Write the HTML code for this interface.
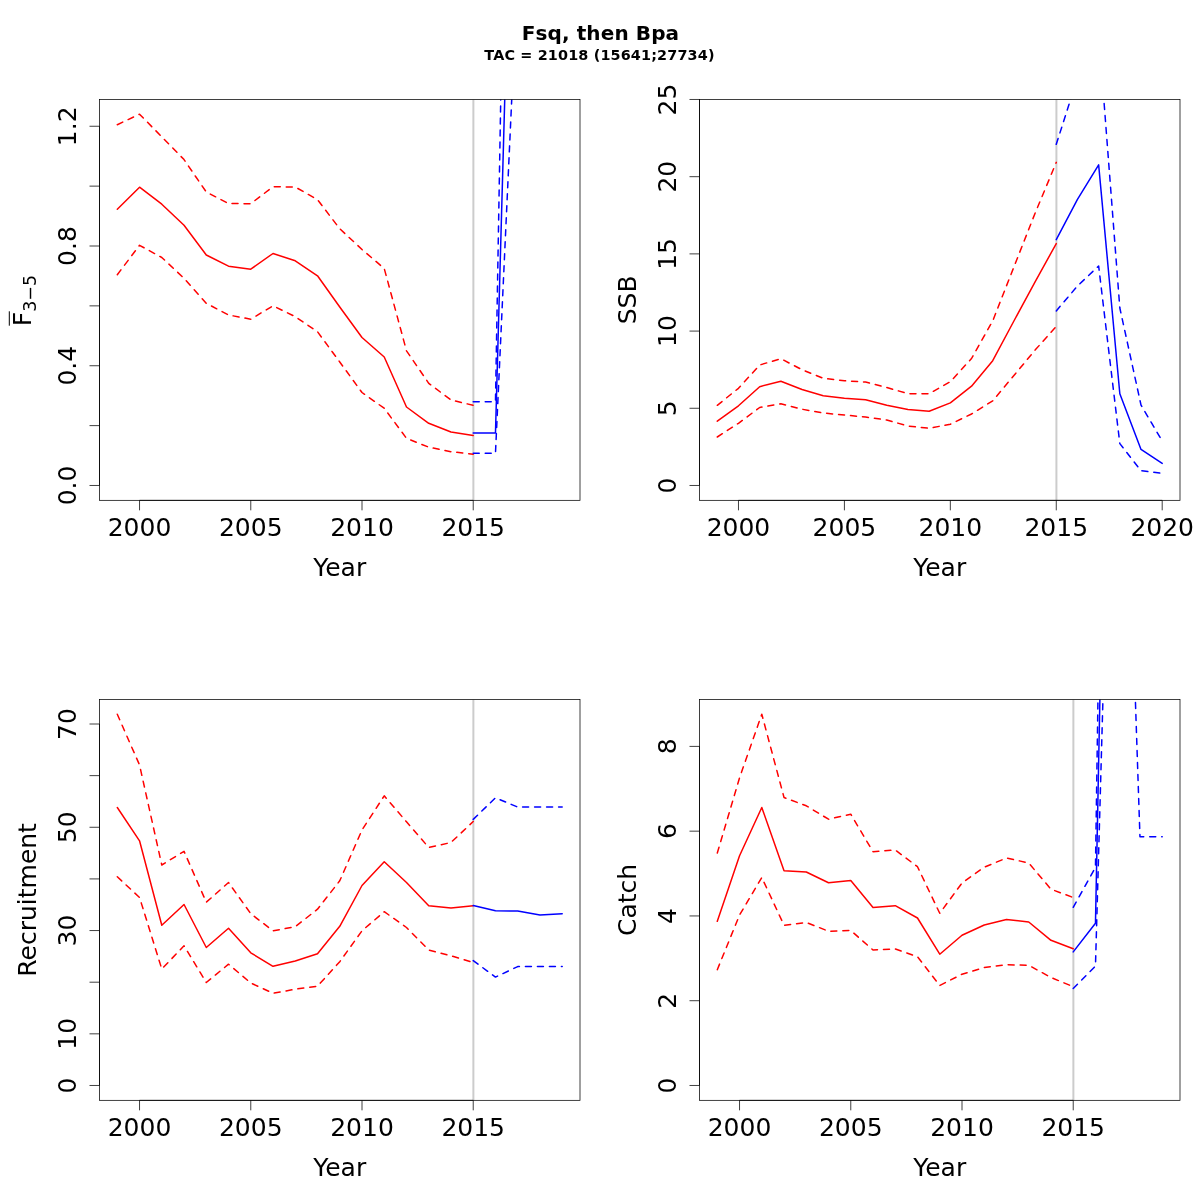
<!DOCTYPE html>
<html><head><meta charset="utf-8"><title>Fsq, then Bpa</title>
<style>
html,body{margin:0;padding:0;background:#fff;}
body{width:1200px;height:1200px;overflow:hidden;}
svg{display:block;}
.t{font-family:"DejaVu Sans","Liberation Sans",sans-serif;font-size:25px;fill:#000;}
.d{stroke-dasharray:6 6;}
.hd{font-family:"DejaVu Sans","Liberation Sans",sans-serif;font-weight:bold;fill:#000;}
</style></head><body>
<svg width="1200" height="1200" viewBox="0 0 1200 1200">
<rect x="0" y="0" width="1200" height="1200" fill="#fff"/>
<text x="600.4" y="40" class="hd" font-size="20" text-anchor="middle" textLength="157.3" lengthAdjust="spacing">Fsq, then Bpa</text>
<text x="599.4" y="60" class="hd" font-size="14.4" text-anchor="middle" textLength="230.2" lengthAdjust="spacing">TAC = 21018 (15641;27734)</text>
<clipPath id="c1"><rect x="99.5" y="99.5" width="480.5" height="400.83"/></clipPath>
<g clip-path="url(#c1)" fill="none" stroke-width="1.5" stroke-linejoin="round" stroke-linecap="round">
<line x1="473.37" y1="99.5" x2="473.37" y2="500.33" stroke="#cccccc" stroke-width="2" stroke-linecap="butt"/>
<polyline points="117.3,209.2 139.54,187.2 161.79,204.2 184.03,225.3 206.28,255 228.52,266.2 250.77,269.2 273.01,253.5 295.26,260.8 317.5,275.8 339.75,307 362,337.5 384.24,357 406.49,407 428.73,423.3 450.98,432 473.22,435.5" stroke="#ff0000"/>
<polyline points="117.3,124.7 139.54,114.2 161.79,136.8 184.03,159.6 206.28,192 228.52,203.5 250.77,203.7 273.01,186.7 295.26,187 317.5,199.7 339.75,228.7 362,249.5 384.24,268.5 406.49,350.8 428.73,383.3 450.98,400 473.22,405.3" stroke="#ff0000" class="d"/>
<polyline points="117.3,274.7 139.54,245.3 161.79,257.5 184.03,278.3 206.28,303.3 228.52,315 250.77,319.2 273.01,305.8 295.26,316.7 317.5,331.7 339.75,362 362,392.5 384.24,408.3 406.49,438.3 428.73,447.2 450.98,451.7 473.22,454.2" stroke="#ff0000" class="d"/>
<polyline points="473.22,432.9 495.47,432.9 517.71,-367.7 539.96,-900 562.2,-900" stroke="#0000ff"/>
<polyline points="473.22,401.7 495.47,401.7 517.71,-874.6 539.96,-1500 562.2,-1500" stroke="#0000ff" class="d"/>
<polyline points="473.22,453.3 495.47,453.3 517.71,-30.8 539.96,-400 562.2,-400" stroke="#0000ff" class="d"/>
</g>
<rect x="99.5" y="99.5" width="480.5" height="400.83" fill="none" stroke="#000" stroke-width="0.75"/>
<path d="M139.54,500.33v10M250.77,500.33v10M362,500.33v10M473.22,500.33v10M99.5,485.48h-10M99.5,425.61h-10M99.5,365.74h-10M99.5,305.87h-10M99.5,246h-10M99.5,186.13h-10M99.5,126.26h-10M139.54,500.33H473.22M99.5,485.48V126.26" stroke="#000" stroke-width="0.75" fill="none"/>
<text x="139.54" y="536" class="t" text-anchor="middle">2000</text>
<text x="250.77" y="536" class="t" text-anchor="middle">2005</text>
<text x="362" y="536" class="t" text-anchor="middle">2010</text>
<text x="473.22" y="536" class="t" text-anchor="middle">2015</text>
<text x="339.75" y="576" class="t" text-anchor="middle">Year</text>
<text transform="translate(76,485.48) rotate(-90)" class="t" text-anchor="middle">0.0</text>
<text transform="translate(76,365.74) rotate(-90)" class="t" text-anchor="middle">0.4</text>
<text transform="translate(76,246) rotate(-90)" class="t" text-anchor="middle">0.8</text>
<text transform="translate(76,126.26) rotate(-90)" class="t" text-anchor="middle">1.2</text>
<text transform="translate(30.8,326.15) rotate(-90)" class="t"><tspan>F</tspan><tspan font-size="17.5" dy="5.2">3−5</tspan></text>
<line x1="9.3" y1="311.3" x2="9.3" y2="325.7" stroke="#000" stroke-width="1"/>
<clipPath id="c2"><rect x="699.5" y="99.5" width="480.5" height="400.83"/></clipPath>
<g clip-path="url(#c2)" fill="none" stroke-width="1.5" stroke-linejoin="round" stroke-linecap="round">
<line x1="1056.42" y1="99.5" x2="1056.42" y2="500.33" stroke="#cccccc" stroke-width="2" stroke-linecap="butt"/>
<polyline points="717.3,421.2 738.48,405.8 759.67,386.7 780.85,381.2 802.04,389.5 823.23,395.8 844.41,398.3 865.6,399.7 886.78,405.3 907.97,409.5 929.16,411.3 950.34,402.9 971.53,386.2 992.72,360.7 1013.9,321 1035.09,281.8 1056.27,243.6" stroke="#ff0000"/>
<polyline points="717.3,405.3 738.48,388.3 759.67,365 780.85,358.7 802.04,369.7 823.23,378.3 844.41,380.8 865.6,382 886.78,387.5 907.97,393.7 929.16,393.7 950.34,381.7 971.53,358.5 992.72,320.9 1013.9,267 1035.09,213.2 1056.27,162.4" stroke="#ff0000" class="d"/>
<polyline points="717.3,437 738.48,423.3 759.67,407.5 780.85,403.7 802.04,409.2 823.23,413 844.41,415 865.6,417 886.78,420 907.97,426 929.16,428.3 950.34,424.2 971.53,414 992.72,400.8 1013.9,375.5 1035.09,350.1 1056.27,326.3" stroke="#ff0000" class="d"/>
<polyline points="1056.27,239.6 1077.46,199.4 1098.65,164.9 1119.83,393.75 1141.02,449.4 1162.2,463.4" stroke="#0000ff"/>
<polyline points="1056.27,144.3 1077.46,78 1098.65,32 1119.83,308 1141.02,405.1 1162.2,441" stroke="#0000ff" class="d"/>
<polyline points="1056.27,310.9 1077.46,286 1098.65,266 1119.83,443.6 1141.02,470.75 1162.2,473.4" stroke="#0000ff" class="d"/>
</g>
<rect x="699.5" y="99.5" width="480.5" height="400.83" fill="none" stroke="#000" stroke-width="0.75"/>
<path d="M738.48,500.33v10M844.41,500.33v10M950.34,500.33v10M1056.27,500.33v10M1162.2,500.33v10M699.5,485.48h-10M699.5,408.28h-10M699.5,331.08h-10M699.5,253.88h-10M699.5,176.68h-10M699.5,99.48h-10M738.48,500.33H1162.2M699.5,485.48V99.48" stroke="#000" stroke-width="0.75" fill="none"/>
<text x="738.48" y="536" class="t" text-anchor="middle">2000</text>
<text x="844.41" y="536" class="t" text-anchor="middle">2005</text>
<text x="950.34" y="536" class="t" text-anchor="middle">2010</text>
<text x="1056.27" y="536" class="t" text-anchor="middle">2015</text>
<text x="1162.2" y="536" class="t" text-anchor="middle">2020</text>
<text x="939.75" y="576" class="t" text-anchor="middle">Year</text>
<text transform="translate(676,485.48) rotate(-90)" class="t" text-anchor="middle">0</text>
<text transform="translate(676,408.28) rotate(-90)" class="t" text-anchor="middle">5</text>
<text transform="translate(676,331.08) rotate(-90)" class="t" text-anchor="middle">10</text>
<text transform="translate(676,253.88) rotate(-90)" class="t" text-anchor="middle">15</text>
<text transform="translate(676,176.68) rotate(-90)" class="t" text-anchor="middle">20</text>
<text transform="translate(676,99.48) rotate(-90)" class="t" text-anchor="middle">25</text>
<text transform="translate(635.9,299.9) rotate(-90)" class="t" text-anchor="middle">SSB</text>
<clipPath id="c3"><rect x="99.5" y="699.5" width="480.5" height="400.83"/></clipPath>
<g clip-path="url(#c3)" fill="none" stroke-width="1.5" stroke-linejoin="round" stroke-linecap="round">
<line x1="473.37" y1="699.5" x2="473.37" y2="1100.33" stroke="#cccccc" stroke-width="2" stroke-linecap="butt"/>
<polyline points="117.3,807.5 139.54,840.8 161.79,925.3 184.03,904.5 206.28,947.5 228.52,928.3 250.77,952.8 273.01,966.3 295.26,961 317.5,953.8 339.75,926.3 362,885.5 384.24,861.7 406.49,882.5 428.73,905.8 450.98,908 473.22,905.7" stroke="#ff0000"/>
<polyline points="117.3,714.2 139.54,765 161.79,865 184.03,851.3 206.28,902.2 228.52,882.5 250.77,913.7 273.01,930.8 295.26,926.7 317.5,909.2 339.75,880.8 362,830 384.24,795.8 406.49,821.8 428.73,847.5 450.98,842.5 473.22,821.5" stroke="#ff0000" class="d"/>
<polyline points="117.3,876.8 139.54,897.5 161.79,969 184.03,945.8 206.28,982.5 228.52,964.2 250.77,983 273.01,993.3 295.26,989.2 317.5,986.2 339.75,961.7 362,930.8 384.24,911.7 406.49,927.5 428.73,950 450.98,955.8 473.22,962.4" stroke="#ff0000" class="d"/>
<polyline points="473.22,905.6 495.47,910.7 517.71,911.1 539.96,914.9 562.2,913.8" stroke="#0000ff"/>
<polyline points="473.22,819.4 495.47,797.8 517.71,807.1 539.96,807.1 562.2,807.1" stroke="#0000ff" class="d"/>
<polyline points="473.22,960.6 495.47,977.1 517.71,966.6 539.96,966.6 562.2,966.6" stroke="#0000ff" class="d"/>
</g>
<rect x="99.5" y="699.5" width="480.5" height="400.83" fill="none" stroke="#000" stroke-width="0.75"/>
<path d="M139.54,1100.33v10M250.77,1100.33v10M362,1100.33v10M473.22,1100.33v10M99.5,1085.48h-10M99.5,1033.84h-10M99.5,982.2h-10M99.5,930.56h-10M99.5,878.92h-10M99.5,827.28h-10M99.5,775.64h-10M99.5,724h-10M139.54,1100.33H473.22M99.5,1085.48V724" stroke="#000" stroke-width="0.75" fill="none"/>
<text x="139.54" y="1136" class="t" text-anchor="middle">2000</text>
<text x="250.77" y="1136" class="t" text-anchor="middle">2005</text>
<text x="362" y="1136" class="t" text-anchor="middle">2010</text>
<text x="473.22" y="1136" class="t" text-anchor="middle">2015</text>
<text x="339.75" y="1176" class="t" text-anchor="middle">Year</text>
<text transform="translate(76,1085.48) rotate(-90)" class="t" text-anchor="middle">0</text>
<text transform="translate(76,1033.84) rotate(-90)" class="t" text-anchor="middle">10</text>
<text transform="translate(76,930.56) rotate(-90)" class="t" text-anchor="middle">30</text>
<text transform="translate(76,827.28) rotate(-90)" class="t" text-anchor="middle">50</text>
<text transform="translate(76,724) rotate(-90)" class="t" text-anchor="middle">70</text>
<text transform="translate(35.9,899.9) rotate(-90)" class="t" text-anchor="middle">Recruitment</text>
<clipPath id="c4"><rect x="699.5" y="699.5" width="480.5" height="400.83"/></clipPath>
<g clip-path="url(#c4)" fill="none" stroke-width="1.5" stroke-linejoin="round" stroke-linecap="round">
<line x1="1073.37" y1="699.5" x2="1073.37" y2="1100.33" stroke="#cccccc" stroke-width="2" stroke-linecap="butt"/>
<polyline points="717.3,921.3 739.54,855.8 761.79,807.5 784.03,870.8 806.28,872 828.52,882.7 850.77,880.4 873.01,907.5 895.26,905.7 917.5,918 939.75,954.2 962,935.3 984.24,925 1006.49,919.5 1028.73,922 1050.98,940.3 1073.22,948.7" stroke="#ff0000"/>
<polyline points="717.3,853 739.54,777.8 761.79,714.2 784.03,797.5 806.28,805.8 828.52,819.2 850.77,814.2 873.01,851.7 895.26,850 917.5,866.7 939.75,913.3 962,883 984.24,867.2 1006.49,858 1028.73,863 1050.98,889.2 1073.22,897.5" stroke="#ff0000" class="d"/>
<polyline points="717.3,969.7 739.54,915 761.79,877.5 784.03,925.3 806.28,922.5 828.52,931.2 850.77,930.5 873.01,950 895.26,949 917.5,956.7 939.75,985.5 962,974.2 984.24,967.5 1006.49,964.7 1028.73,965.3 1050.98,977.5 1073.22,986.7" stroke="#ff0000" class="d"/>
<polyline points="1073.22,951.9 1095.47,923.3 1117.71,-203 1139.96,-400 1162.2,-400" stroke="#0000ff"/>
<polyline points="1073.22,907.3 1095.47,867.3 1117.71,-630 1139.96,-800 1162.2,-800" stroke="#0000ff" class="d"/>
<polyline points="1073.22,988.5 1095.47,966 1117.71,172.4 1139.96,836.7 1162.2,836.7" stroke="#0000ff" class="d"/>
</g>
<rect x="699.5" y="699.5" width="480.5" height="400.83" fill="none" stroke="#000" stroke-width="0.75"/>
<path d="M739.54,1100.33v10M850.77,1100.33v10M962,1100.33v10M1073.22,1100.33v10M699.5,1085.48h-10M699.5,1000.71h-10M699.5,915.94h-10M699.5,831.17h-10M699.5,746.4h-10M739.54,1100.33H1073.22M699.5,1085.48V746.4" stroke="#000" stroke-width="0.75" fill="none"/>
<text x="739.54" y="1136" class="t" text-anchor="middle">2000</text>
<text x="850.77" y="1136" class="t" text-anchor="middle">2005</text>
<text x="962" y="1136" class="t" text-anchor="middle">2010</text>
<text x="1073.22" y="1136" class="t" text-anchor="middle">2015</text>
<text x="939.75" y="1176" class="t" text-anchor="middle">Year</text>
<text transform="translate(676,1085.48) rotate(-90)" class="t" text-anchor="middle">0</text>
<text transform="translate(676,1000.71) rotate(-90)" class="t" text-anchor="middle">2</text>
<text transform="translate(676,915.94) rotate(-90)" class="t" text-anchor="middle">4</text>
<text transform="translate(676,831.17) rotate(-90)" class="t" text-anchor="middle">6</text>
<text transform="translate(676,746.4) rotate(-90)" class="t" text-anchor="middle">8</text>
<text transform="translate(635.9,899.9) rotate(-90)" class="t" text-anchor="middle">Catch</text>
</svg>
</body></html>
